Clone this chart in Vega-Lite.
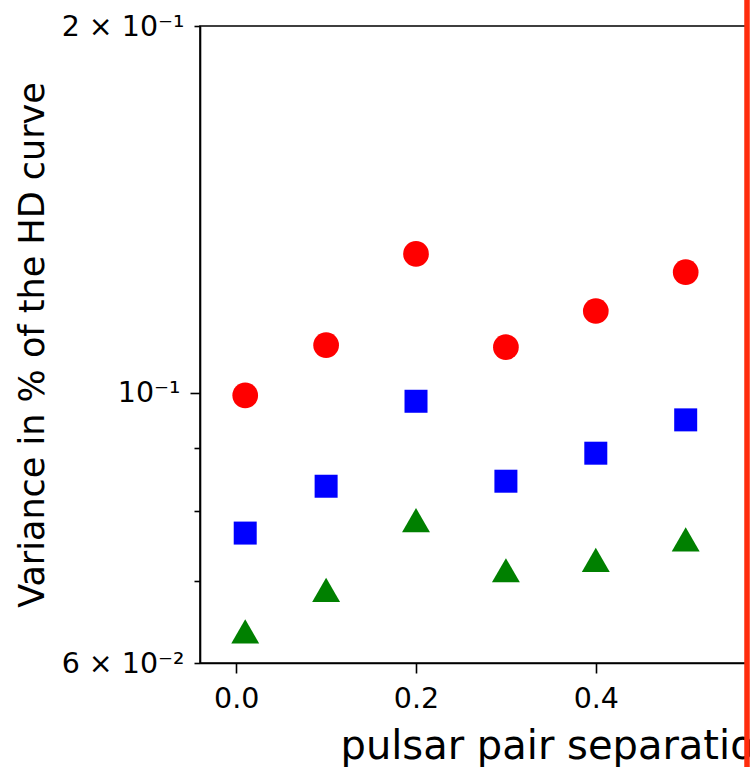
{
  "$schema": "https://vega.github.io/schema/vega-lite/v6.json",
  "width": 547,
  "height": 637,
  "autosize": {"type": "none"},
  "padding": {"left": 200, "top": 26, "right": 3, "bottom": 104},
  "background": "white",
  "config": {
    "view": {"stroke": "black", "strokeWidth": 1.6},
    "font": "DejaVu Sans"
  },
  "datasets": {
    "pts": [
      {"sep": 0.01, "variance": 0.0995, "series": "S1"},
      {"sep": 0.1, "variance": 0.1094, "series": "S1"},
      {"sep": 0.2, "variance": 0.13, "series": "S1"},
      {"sep": 0.3, "variance": 0.109, "series": "S1"},
      {"sep": 0.4, "variance": 0.1167, "series": "S1"},
      {"sep": 0.5, "variance": 0.1256, "series": "S1"},
      {"sep": 0.01, "variance": 0.0767, "series": "S2"},
      {"sep": 0.1, "variance": 0.0838, "series": "S2"},
      {"sep": 0.2, "variance": 0.0984, "series": "S2"},
      {"sep": 0.3, "variance": 0.0846, "series": "S2"},
      {"sep": 0.4, "variance": 0.0892, "series": "S2"},
      {"sep": 0.5, "variance": 0.095, "series": "S2"},
      {"sep": 0.01, "variance": 0.0637, "series": "S3"},
      {"sep": 0.1, "variance": 0.0689, "series": "S3"},
      {"sep": 0.2, "variance": 0.0786, "series": "S3"},
      {"sep": 0.3, "variance": 0.0715, "series": "S3"},
      {"sep": 0.4, "variance": 0.0729, "series": "S3"},
      {"sep": 0.5, "variance": 0.0758, "series": "S3"}
    ]
  },
  "data": {"name": "pts"},
  "encoding": {
    "x": {
      "field": "sep",
      "type": "quantitative",
      "scale": {"domain": [-0.0403, 0.5682], "nice": false, "zero": false},
      "axis": {
        "values": [0, 0.2, 0.4],
        "format": ".1f",
        "labelFontSize": 28.5,
        "labelColor": "black",
        "labelPadding": 11,
        "labelFlush": false,
        "labelOverlap": false,
        "tickSize": 10,
        "tickWidth": 1.6,
        "tickColor": "black",
        "domainColor": "black",
        "domainWidth": 1.6,
        "grid": false,
        "title": "pulsar pair separation",
        "titleFontSize": 40,
        "titleFontWeight": "normal",
        "titleColor": "black",
        "titleAnchor": "start",
        "titleAlign": "left",
        "titleX": 140,
        "titleY": 95,
        "titleBaseline": "alphabetic"
      }
    },
    "y": {
      "field": "variance",
      "type": "quantitative",
      "scale": {"type": "log", "domain": [0.06, 0.2], "nice": false},
      "axis": {
        "values": [0.06, 0.07, 0.08, 0.09, 0.1, 0.2],
        "labelExpr": "abs(datum.value-0.2)<1e-9 ? '2 × 10⁻¹' : abs(datum.value-0.1)<1e-9 ? '10⁻¹' : abs(datum.value-0.06)<1e-9 ? '6 × 10⁻²' : ''",
        "labelFontSize": 28.5,
        "labelColor": "black",
        "labelPadding": 10,
        "labelOverlap": false,
        "labelFlush": false,
        "labelBound": false,
        "tickSize": {"condition": {"test": "abs(datum.value-0.1)<1e-9", "value": 10}, "value": 6},
        "tickWidth": 1.6,
        "tickColor": "black",
        "domainColor": "black",
        "domainWidth": 1.6,
        "grid": false,
        "title": "Variance in % of the HD curve",
        "titleFontSize": 35,
        "titleFontWeight": "normal",
        "titleColor": "black",
        "titleAngle": -90,
        "titleAlign": "center",
        "titleBaseline": "alphabetic",
        "titleX": -157,
        "titleY": 318.5
      }
    }
  },
  "layer": [
    {
      "transform": [{"filter": "datum.series == 'S1'"}],
      "mark": {"type": "point", "shape": "circle", "filled": true, "opacity": 1, "strokeWidth": 0, "size": 660, "color": "#ff0000"}
    },
    {
      "transform": [{"filter": "datum.series == 'S2'"}],
      "mark": {"type": "point", "shape": "square", "filled": true, "opacity": 1, "strokeWidth": 0, "size": 529, "color": "#0000ff"}
    },
    {
      "transform": [{"filter": "datum.series == 'S3'"}],
      "mark": {"type": "point", "shape": "triangle-up", "filled": true, "opacity": 1, "strokeWidth": 0, "size": 780, "color": "#008000"}
    },
    {
      "data": {"values": [{"sep": 0.5682, "lo": 0.04, "hi": 0.3}]},
      "mark": {"type": "rule", "color": "#ff2d0d", "strokeWidth": 5.5, "clip": false},
      "encoding": {
        "x": {"field": "sep", "type": "quantitative"},
        "y": {"field": "lo", "type": "quantitative"},
        "y2": {"field": "hi"}
      }
    }
  ]
}
